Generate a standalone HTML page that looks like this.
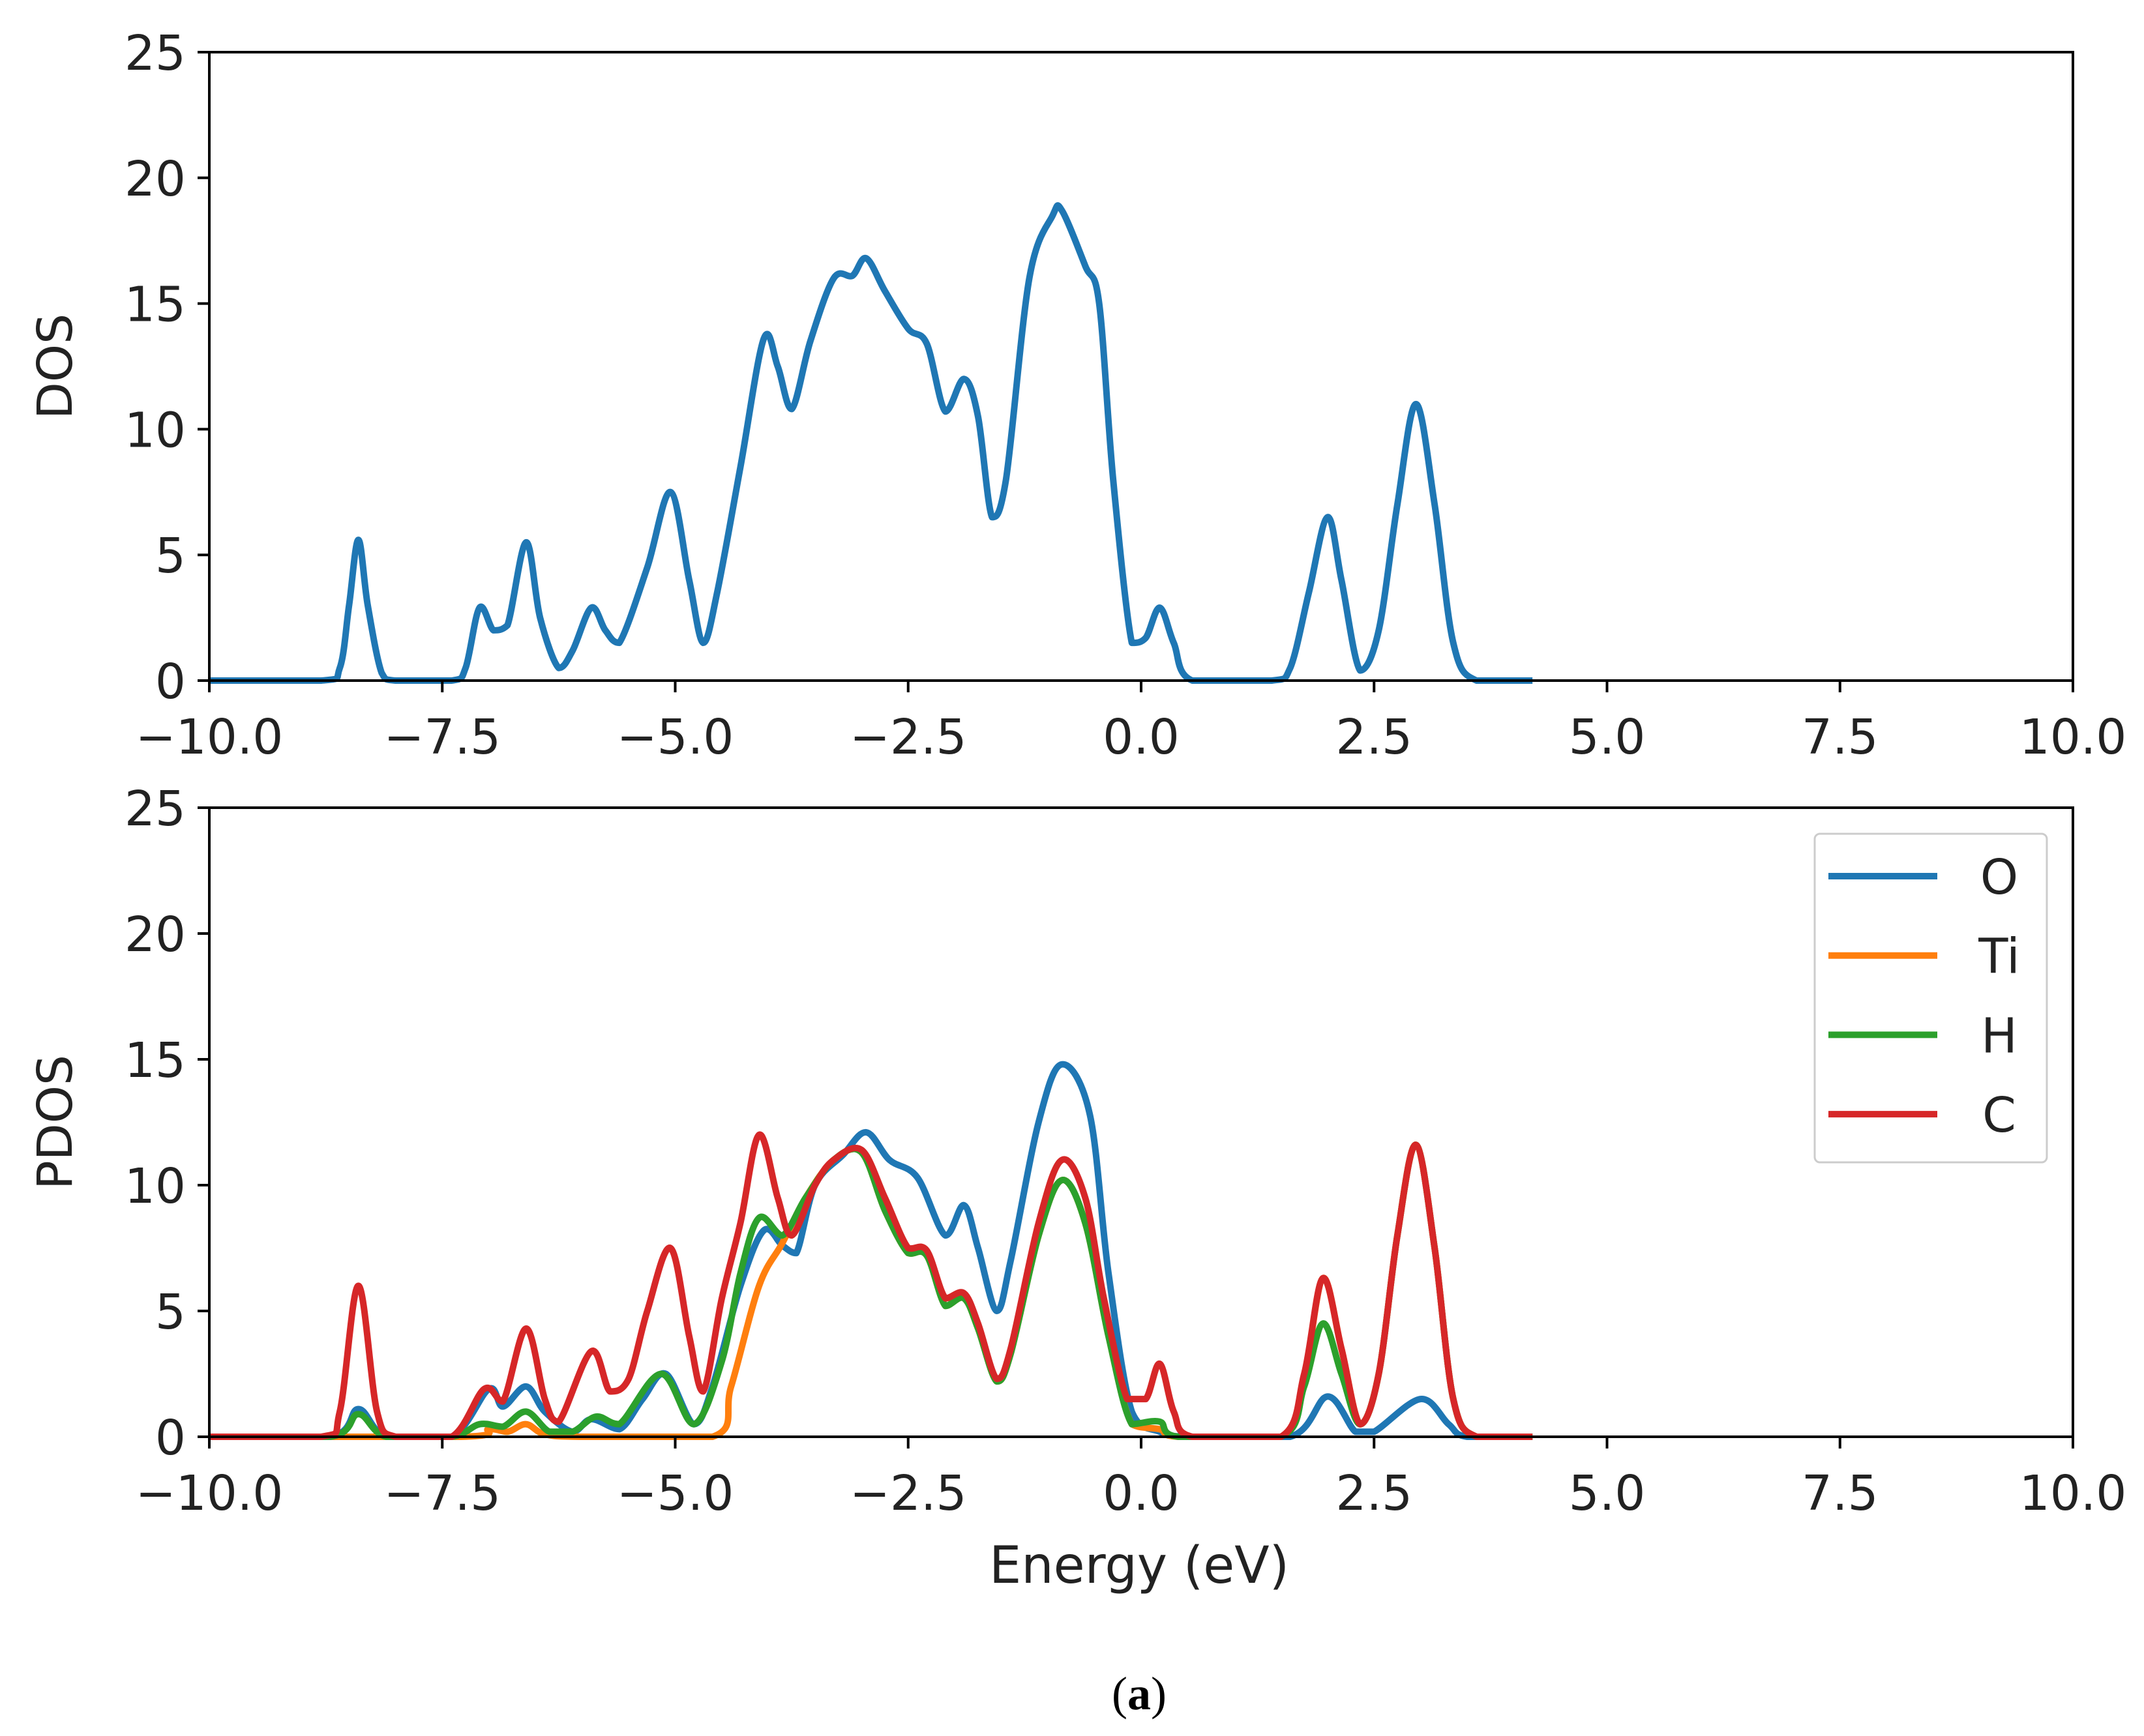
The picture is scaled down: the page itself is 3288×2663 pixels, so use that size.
<!DOCTYPE html>
<html><head><meta charset="utf-8"><style>
html,body{margin:0;padding:0;background:#fff;}
svg{display:block;}
text{font-family:"DejaVu Sans","Liberation Sans",sans-serif;}
</style></head><body>
<svg id="chart" width="3288" height="2663" viewBox="0 0 3288 2663" xmlns="http://www.w3.org/2000/svg">
<rect width="3288" height="2663" fill="#fff"/>
<g id="top"></g>
<g id="bot"></g>
<text x="1747" y="2428" font-size="78" text-anchor="middle" fill="#222">Energy (eV)</text>
<text x="1747" y="2622" font-size="72" text-anchor="middle" style="font-family:'Liberation Serif',serif">(<tspan font-weight="bold">a</tspan>)</text>
</svg>
<script>
const xTicks=[-10,-7.5,-5,-2.5,0,2.5,5,7.5,10];
const xTickLabels=["\u221210.0","\u22127.5","\u22125.0","\u22122.5","0.0","2.5","5.0","7.5","10.0"];
const yTicks=[0,5,10,15,20,25];
const dosE=[-10,-8.8,-8.6,-8.5,-8.4,-8.3,-8.15,-8.0,-7.4,-7.25,-7.1,-6.95,-6.8,-6.6,-6.45,-6.25,-6.1,-5.9,-5.75,-5.6,-5.3,-5.05,-4.85,-4.7,-4.55,-4.3,-4.05,-3.9,-3.75,-3.55,-3.3,-3.1,-2.95,-2.75,-2.5,-2.3,-2.1,-1.9,-1.75,-1.6,-1.45,-1.2,-0.95,-0.85,-0.6,-0.45,-0.3,-0.1,0.05,0.2,0.35,0.55,1.4,1.6,1.8,2.0,2.15,2.35,2.55,2.75,2.95,3.15,3.35,3.6,4.2];
const dosV=[0,0,0.5,3,5.6,3,0.3,0,0,0.5,2.9,2,2.2,5.5,2.5,0.5,1.2,2.9,2,1.5,4.5,7.5,4,1.5,3.5,8.5,13.6,12.5,10.8,13.5,16,16.1,16.8,15.5,14,13.4,10.7,12,10.5,6.5,8,16,18.5,18.7,16.5,15,8,1.5,1.7,2.9,1.5,0,0,0.5,3.5,6.5,4,0.4,2,7,11,7,1.5,0,0];
const oE=[-10,-8.7,-8.4,-8.1,-7.4,-7.0,-6.85,-6.6,-6.4,-6.1,-5.9,-5.6,-5.35,-5.1,-4.8,-4.6,-4.3,-4.05,-3.85,-3.7,-3.5,-3.2,-2.95,-2.7,-2.4,-2.1,-1.9,-1.75,-1.55,-1.4,-1.1,-0.85,-0.55,-0.35,-0.1,0.2,0.5,1.6,2.0,2.3,2.5,3.0,3.3,3.5,4.2];
const oV=[0,0,1.1,0,0,1.9,1.2,2,1,0.2,0.7,0.3,1.5,2.5,0.5,2,6,8.2,7.6,7.3,10,11.2,12.1,11,10.3,8,9.2,7.5,5,7,12.5,14.8,12.8,6.5,1,0.2,0,0,1.6,0.2,0.2,1.5,0.5,0,0];
const tiE=[-10,-7.3,-7.0,-6.8,-6.6,-6.4,-6.0,-4.6,-4.4,-4.1,-3.85,-3.6,-3.3,-3.0,-2.75,-2.5,-2.3,-2.1,-1.9,-1.75,-1.55,-1.4,-1.1,-0.85,-0.6,-0.35,-0.1,0.2,0.4,1.5,1.75,1.95,2.15,2.35,2.55,2.75,2.95,3.15,3.35,3.6,4.2];
const tiV=[0,0,0.3,0.2,0.5,0.1,0,0,2,6,7.7,9.5,11,11.3,9,7.3,7.2,5.2,5.5,4.3,2.2,3.3,8,10.2,8.5,4,0.5,0.3,0,0,2.4,6.3,3.5,0.5,2.5,8,11.6,7.5,1.5,0,0];
const hE=[-10,-8.7,-8.4,-8.1,-7.4,-7.1,-6.85,-6.6,-6.35,-6.1,-5.85,-5.6,-5.15,-4.8,-4.5,-4.3,-4.1,-3.85,-3.6,-3.3,-3.0,-2.75,-2.5,-2.3,-2.1,-1.9,-1.75,-1.55,-1.4,-1.1,-0.85,-0.6,-0.35,-0.1,0.2,0.4,1.5,1.75,1.95,2.15,2.35,2.55,2.75,2.95,3.15,3.35,3.6,4.2];
const hV=[0,0,0.9,0,0,0.5,0.4,1,0.2,0.2,0.8,0.5,2.5,0.5,3,6.5,8.7,8,9.5,11,11.3,9,7.3,7.2,5.2,5.5,4.3,2.2,3.3,8,10.2,8.5,4,0.5,0.6,0,0,2,4.5,2.5,0.5,2.5,8,11.6,7.5,1.5,0,0];
const cE=[-10,-8.8,-8.6,-8.4,-8.2,-8.0,-7.4,-7.05,-6.85,-6.6,-6.4,-6.25,-5.9,-5.7,-5.5,-5.3,-5.05,-4.85,-4.7,-4.5,-4.3,-4.1,-3.9,-3.75,-3.5,-3.3,-3.0,-2.75,-2.5,-2.3,-2.1,-1.9,-1.75,-1.55,-1.4,-1.1,-0.85,-0.6,-0.4,-0.15,0.05,0.2,0.35,0.55,1.5,1.75,1.95,2.15,2.35,2.55,2.75,2.95,3.15,3.35,3.6,4.2];
const cV=[0,0,1,6,1,0,0,1.9,1.4,4.3,1.5,0.6,3.4,1.8,2.3,5,7.5,4,1.8,5.5,8.5,12,9.5,8,10,11,11.4,9.5,7.5,7.4,5.5,5.7,4.5,2.3,3.5,8.5,11,9.5,5.5,1.5,1.5,2.9,1,0,0,2.5,6.3,3.5,0.5,2.5,8,11.6,7.5,1.5,0,0];
const seriesNames=["O","Ti","H","C"];
const colors=["#1f77b4","#ff7f0e","#2ca02c","#d62728"];
const NS="http://www.w3.org/2000/svg";
const L=321,R=3179;
function sx(v){return L+(v+10)/20*(R-L);}
function mk(tag,attrs,parent){const e=document.createElementNS(NS,tag);for(const k in attrs)e.setAttribute(k,attrs[k]);parent.appendChild(e);return e;}
function pathD(E,V,sy){const p=E.map((e,i)=>[sx(e),sy(V[i])]);let d="M"+p[0][0]+","+p[0][1];
for(let i=0;i<p.length-1;i++){const p0=p[Math.max(0,i-1)],p1=p[i],p2=p[i+1],p3=p[Math.min(p.length-1,i+2)];
const c1x=p1[0]+(p2[0]-p0[0])/6,c1y=p1[1]+(p2[1]-p0[1])/6,c2x=p2[0]-(p3[0]-p1[0])/6,c2y=p2[1]-(p3[1]-p1[1])/6;
d+=` C${c1x},${Math.min(c1y,Math.max(p1[1],p2[1]))} ${c2x},${Math.min(c2y,Math.max(p1[1],p2[1]))} ${p2[0]},${p2[1]}`;}return d;}
function panel(g,T,B,ylabel,series,prefix){
 const sy=v=>B-v/25*(B-T);
 series.forEach(s=>{const p=mk("path",{d:pathD(s.E,s.V,sy),fill:"none",stroke:s.c,"stroke-width":10,"stroke-linejoin":"round"},g);
 
 });
 const fr=mk("rect",{x:L,y:T,width:R-L,height:B-T,fill:"none",stroke:"#000","stroke-width":4},g);
 
 
 xTicks.forEach((t,i)=>{mk("line",{x1:sx(t),x2:sx(t),y1:B,y2:B+18,stroke:"#000","stroke-width":4},g);
  const tx=mk("text",{x:sx(t),y:B+112,"font-size":74,"text-anchor":"middle",fill:"#222"},g);tx.textContent=xTickLabels[i];
  
  });
 yTicks.forEach(t=>{mk("line",{x1:L-18,x2:L,y1:sy(t),y2:sy(t),stroke:"#000","stroke-width":4},g);
  const tx=mk("text",{x:L-36,y:sy(t)+27,"font-size":74,"text-anchor":"end",fill:"#222"},g);tx.textContent=t;
  
  });
 const yl=mk("text",{x:0,y:0,"font-size":74,"text-anchor":"middle",fill:"#222",transform:`translate(110,${(T+B)/2}) rotate(-90)`},g);yl.textContent=ylabel;
 
 
}
panel(document.getElementById("top"),80,1044,"DOS",[{E:dosE,V:dosV,c:colors[0],n:"total"}],"dos");
const bot=document.getElementById("bot");
panel(bot,1239,2204,"PDOS",[{E:oE,V:oV,c:colors[0],n:"O"},{E:tiE,V:tiV,c:colors[1],n:"Ti"},{E:hE,V:hV,c:colors[2],n:"H"},{E:cE,V:cV,c:colors[3],n:"C"}],"pdos");
const lg=mk("g",{},bot);


mk("rect",{x:2783,y:1279,width:356,height:504,rx:8,fill:"#fff",stroke:"#ccc","stroke-width":3},lg);
seriesNames.forEach((n,i)=>{const y=1344+i*121.7;
 const e=mk("g",{},lg);
 
 
 mk("line",{x1:2804,x2:2971,y1:y,y2:y,stroke:colors[i],"stroke-width":10},e);
 const t=mk("text",{x:3066,y:y+27,"font-size":74,"text-anchor":"middle",fill:"#222"},e);t.textContent=n;});
</script>
</body></html>
